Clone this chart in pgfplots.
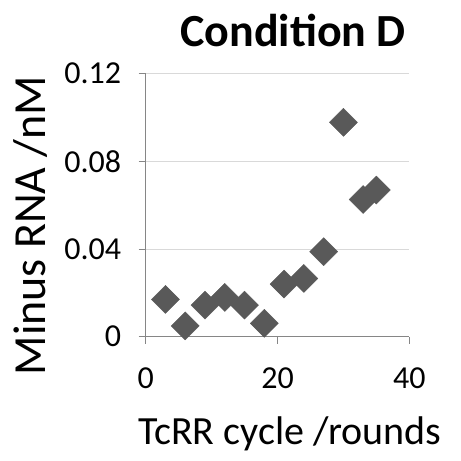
\documentclass[border=0pt]{standalone}
\usepackage{pgfplots}
\pgfplotsset{compat=1.18}
\usepackage{fontspec}
\setmainfont{Carlito}

\definecolor{markgray}{HTML}{595959}
\definecolor{axgray}{HTML}{868686}
\definecolor{gridgray}{HTML}{D9D9D9}

\begin{document}
\begin{tikzpicture}
\useasboundingbox (0,0) rectangle (461pt,461pt);
\begin{axis}[
    at={(145.7pt,124.3pt)}, anchor=south west,
    width=263.6pt, height=263pt, scale only axis,
    xmin=0, xmax=40, ymin=0, ymax=0.12,
    xtick={0,20,40}, ytick={0,0.04,0.08,0.12},
    yticklabels={0,0.04,0.08,0.12},
    axis x line*=bottom, axis y line*=left,
    axis line style={axgray, line width=1pt},
    tick style={axgray, line width=1pt},
    tick align=outside, major tick length=7pt,
    ymajorgrids=true,
    grid style={gridgray, line width=1pt},
    /pgf/number format/assume math mode=true,
    ticklabel style={font=\fontsize{32}{38}\selectfont},
    yticklabel style={xshift=-14pt},
    xticklabel style={yshift=-21pt},
    title={Condition D},
    title style={font=\fontsize{46}{55}\selectfont\bfseries,
        at={(axis description cs:0.559,1.0787)}, anchor=base},
    xlabel={TcRR cycle /rounds},
    xlabel style={font=\fontsize{40}{48}\selectfont,
        at={(axis description cs:0.547,-0.408)}, anchor=base},
    ylabel={Minus RNA /nM},
    ylabel style={font=\fontsize{46}{55}\selectfont,
        at={(axis description cs:-0.382,0.4228)}, anchor=base},
    clip=false,
]
\addplot[only marks, mark=square*, mark size=9.9pt,
    mark options={rotate=45, fill=markgray, draw=markgray}]
    coordinates {
        (3, 0.0170) (6, 0.0049) (9, 0.0144) (12, 0.0179) (15, 0.0144)
        (18, 0.0061) (21, 0.0240) (24, 0.0266) (27, 0.0388)
        (30, 0.0978) (33, 0.0626) (35, 0.0669)
    };
\end{axis}
\end{tikzpicture}
\end{document}
